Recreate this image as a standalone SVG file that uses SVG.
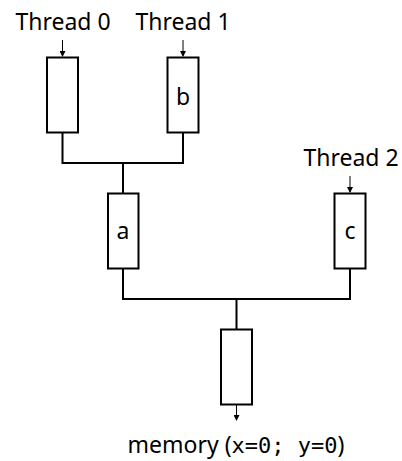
<svg xmlns="http://www.w3.org/2000/svg" width="402" height="461" viewBox="0 0 402 461">
<style>
.box{fill:#fff;stroke:#000;stroke-width:2}
.ln{fill:none;stroke:#000;stroke-width:2}
.ar{fill:none;stroke:#000;stroke-width:1}
.t{font-family:"Noto Sans","Liberation Sans",sans-serif;font-size:23px;fill:#000}
.m{font-family:"DejaVu Sans Mono","Liberation Mono",monospace;font-size:22px}
</style>
<defs>
<marker id="ah" markerWidth="6" markerHeight="6" refX="5" refY="3" orient="auto" markerUnits="userSpaceOnUse" viewBox="0 0 6 6">
<path d="M0,0 L6,3 L0,6 Z" fill="#000"/>
</marker>
</defs>
<rect width="402" height="461" fill="#fff"/>
<g id="connectors">
<path class="ln" d="M62.5,133 V163 H183 V133"/>
<path class="ln" d="M123,163 V193"/>
<path class="ln" d="M123,268 V299 H350 V268"/>
<path class="ln" d="M236.5,299 V329"/>
<path class="ar" d="M62.5,40 V56" marker-end="url(#ah)"/>
<path class="ar" d="M183,40 V56" marker-end="url(#ah)"/>
<path class="ar" d="M350,176 V192" marker-end="url(#ah)"/>
<path class="ar" d="M236.5,405 V420" marker-end="url(#ah)"/>
</g>
<g id="thread0">
<text class="t" x="63" y="30" text-anchor="middle">Thread 0</text>
<rect class="box" x="47" y="57.5" width="31" height="75"/>
</g>
<g id="thread1">
<text class="t" x="183" y="30" text-anchor="middle">Thread 1</text>
<rect class="box" x="167.5" y="57.5" width="31" height="75"/>
<text class="t" x="183" y="105" text-anchor="middle">b</text>
</g>
<g id="a">
<rect class="box" x="108" y="193.5" width="30.5" height="75"/>
<text class="t" x="123" y="239" text-anchor="middle">a</text>
</g>
<g id="thread2">
<text class="t" x="351" y="166" text-anchor="middle">Thread 2</text>
<rect class="box" x="334.5" y="193.5" width="31" height="75"/>
<text class="t" x="350" y="239" text-anchor="middle">c</text>
</g>
<g id="memory">
<rect class="box" x="221" y="329.5" width="31" height="75"/>
<text class="t" x="236" y="453" text-anchor="middle">memory (<tspan class="m">x=0; y=0</tspan>)</text>
</g>
</svg>
